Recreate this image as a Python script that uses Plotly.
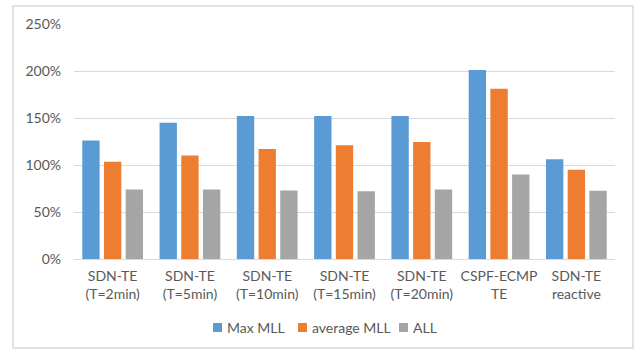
import plotly.graph_objects as go

categories = ["SDN-TE<br>(T=2min)", "SDN-TE<br>(T=5min)", "SDN-TE<br>(T=10min)",
              "SDN-TE<br>(T=15min)", "SDN-TE<br>(T=20min)", "CSPF-ECMP<br>TE",
              "SDN-TE<br>reactive"]
max_mll = [1.26, 1.45, 1.52, 1.52, 1.52, 2.01, 1.06]
avg_mll = [1.035, 1.10, 1.17, 1.21, 1.245, 1.81, 0.95]
all_links = [0.74, 0.74, 0.73, 0.72, 0.74, 0.90, 0.727]
y_ticks = [0, 0.5, 1.0, 1.5, 2.0, 2.5]

series_names = ["Max MLL", "average MLL", "ALL"]
series_values = [max_mll, avg_mll, all_links]
series_colors = ["#5B9BD5", "#ED7D31", "#A5A5A5"]

# plot area geometry in pixels (used for the frame and the legend row)
W, H = 635, 352
L, R, T, B = 74, 20, 24, 93
PW, PH = W - L - R, H - T - B


def px_x(x):
    return (x - L) / PW


def px_y(y):
    return (H - B - y) / PH


fig = go.Figure()
for name, vals, color in zip(series_names, series_values, series_colors):
    fig.add_trace(go.Bar(x=categories, y=vals, name=name, showlegend=False,
                         marker=dict(color=color, line=dict(width=0))))

font = "Lato, 'Open Sans', sans-serif"
text_color = "#595959"

# legend row: small square swatch followed by its label
shapes = [dict(type="rect", xref="paper", yref="paper",
               x0=px_x(13), x1=px_x(633), y0=px_y(348), y1=px_y(6),
               line=dict(color="#D9D9D9", width=1.5), fillcolor="rgba(0,0,0,0)",
               layer="below")]
annotations = []
legend_x = [213, 298, 399]
for name, color, lx in zip(series_names, series_colors, legend_x):
    shapes.append(dict(type="rect", xref="paper", yref="paper",
                       x0=px_x(lx), x1=px_x(lx + 9), y0=px_y(332), y1=px_y(323),
                       line=dict(width=0), fillcolor=color))
    annotations.append(dict(xref="paper", yref="paper", x=px_x(lx + 12), y=px_y(327.5),
                            xanchor="left", yanchor="middle", showarrow=False,
                            text=name, font=dict(size=14, color=text_color, family=font)))

fig.update_layout(
    width=W, height=H,
    margin=dict(l=L, r=R, t=T, b=B),
    paper_bgcolor="white", plot_bgcolor="white",
    barmode="group", bargap=0.158, bargroupgap=0.2,
    font=dict(family=font, size=14, color=text_color),
    showlegend=False,
    xaxis=dict(showgrid=False, showline=True, linecolor="#D9D9D9", linewidth=1,
               ticks="", ticklabelstandoff=4,
               tickfont=dict(size=14, color=text_color)),
    yaxis=dict(range=[0, 2.5], tickvals=y_ticks, tickformat=".0%",
               showgrid=True, gridcolor="#D9D9D9", gridwidth=1,
               zeroline=False, showline=False, ticks="", ticklabelstandoff=12,
               tickfont=dict(size=14, color=text_color)),
    shapes=shapes,
    annotations=annotations,
)

fig.write_html("out.html")
